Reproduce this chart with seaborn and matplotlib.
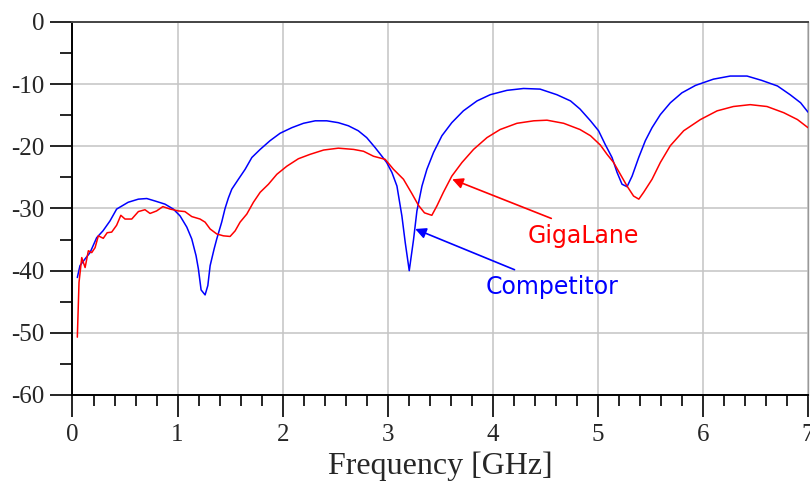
import numpy as np
import pandas as pd
import seaborn as sns
import matplotlib.pyplot as plt
from matplotlib.ticker import MultipleLocator

# Competitor (blue) trace
comp_freq = [0.046, 0.071, 0.12, 0.167, 0.23, 0.29, 0.357, 0.42, 0.53, 0.627, 0.707, 0.786,
             0.88, 0.96, 1.024, 1.088, 1.135, 1.176, 1.198, 1.224, 1.262, 1.288, 1.31, 1.348,
             1.373, 1.42, 1.452, 1.484, 1.516, 1.579, 1.643, 1.707, 1.786, 1.88, 1.976, 2.088,
             2.198, 2.31, 2.42, 2.53, 2.626, 2.72, 2.80, 2.88, 2.945, 2.99, 3.04, 3.088, 3.135,
             3.167, 3.205, 3.246, 3.278, 3.326, 3.373, 3.436, 3.516, 3.61, 3.72, 3.85, 3.976,
             4.135, 4.293, 4.45, 4.61, 4.74, 4.83, 4.93, 5.007, 5.07, 5.135, 5.183, 5.23, 5.278,
             5.326, 5.389, 5.452, 5.516, 5.595, 5.69, 5.80, 5.93, 6.10, 6.26, 6.42, 6.56, 6.71,
             6.83, 6.93, 7.0]
comp_db = [-41.1, -39.2, -38.1, -37.1, -34.7, -33.6, -32.0, -30.1, -29.0, -28.5, -28.4, -28.8,
           -29.3, -30.1, -31.2, -33.0, -34.9, -37.6, -39.7, -43.1, -43.9, -42.4, -39.2, -36.5,
           -34.9, -32.2, -30.0, -28.3, -26.9, -25.3, -23.7, -21.8, -20.5, -19.1, -17.9, -17.0,
           -16.3, -15.9, -15.9, -16.2, -16.7, -17.5, -18.6, -20.2, -21.6, -22.6, -24.2, -26.4,
           -31.2, -35.5, -40.0, -35.0, -30.4, -26.4, -23.7, -21.0, -18.3, -16.2, -14.3, -12.7,
           -11.7, -11.0, -10.7, -10.8, -11.7, -12.7, -14.0, -15.9, -17.5, -19.7, -21.8, -24.2,
           -26.1, -26.5, -24.8, -21.8, -19.1, -17.0, -14.9, -13.0, -11.4, -10.2, -9.2, -8.7,
           -8.7, -9.4, -10.3, -11.7, -13.0, -14.5]

# GigaLane (red) trace
giga_freq = [0.046, 0.062, 0.088, 0.12, 0.151, 0.183, 0.215, 0.246, 0.293, 0.33, 0.373, 0.42,
             0.46, 0.50, 0.564, 0.627, 0.69, 0.738, 0.80, 0.86, 0.93, 1.01, 1.07, 1.135, 1.214,
             1.262, 1.31, 1.373, 1.436, 1.50, 1.548, 1.595, 1.659, 1.722, 1.786, 1.865, 1.945,
             2.04, 2.15, 2.26, 2.39, 2.53, 2.675, 2.77, 2.865, 2.976, 3.055, 3.15, 3.23, 3.293,
             3.35, 3.42, 3.468, 3.53, 3.61, 3.707, 3.817, 3.945, 4.07, 4.23, 4.39, 4.516, 4.675,
             4.83, 4.93, 5.024, 5.088, 5.15, 5.214, 5.278, 5.34, 5.39, 5.436, 5.516, 5.595, 5.69,
             5.817, 5.976, 6.135, 6.29, 6.45, 6.61, 6.77, 6.90, 7.0]
giga_db = [-50.7, -41.9, -37.9, -39.5, -36.8, -37.1, -36.3, -34.4, -34.8, -33.9, -33.8, -32.7,
           -31.1, -31.7, -31.7, -30.5, -30.2, -30.8, -30.4, -29.7, -30.1, -30.4, -30.5, -31.3,
           -31.7, -32.2, -33.3, -34.1, -34.4, -34.5, -33.6, -32.2, -30.9, -29.0, -27.4, -26.1,
           -24.5, -23.2, -22.0, -21.3, -20.6, -20.3, -20.5, -20.8, -21.6, -22.1, -23.7, -25.3,
           -27.6, -29.5, -30.7, -31.1, -29.6, -27.4, -24.8, -22.6, -20.5, -18.6, -17.3, -16.3,
           -15.9, -15.8, -16.3, -17.3, -18.3, -19.8, -21.3, -22.6, -24.5, -26.4, -28.0, -28.5,
           -27.4, -25.3, -22.6, -19.9, -17.5, -15.7, -14.3, -13.6, -13.3, -13.6, -14.6, -15.7,
           -17.0]

x_ticks = [0, 1, 2, 3, 4, 5, 6, 7]
y_ticks = [0, -10, -20, -30, -40, -50, -60]

df = pd.concat([
    pd.DataFrame({'freq': comp_freq, 'db': comp_db, 'trace': 'Competitor'}),
    pd.DataFrame({'freq': giga_freq, 'db': giga_db, 'trace': 'GigaLane'}),
])

sns.set_style('white')
plt.rcParams['font.family'] = ['Liberation Serif', 'DejaVu Serif']
plt.rcParams['axes.unicode_minus'] = False

fig = plt.figure(figsize=(8.1, 4.88), dpi=100)
ax = fig.add_axes([0.0895, 0.1906, 0.9080, 0.7644])

sns.lineplot(data=df, x='freq', y='db', hue='trace', estimator=None, sort=False,
             palette={'Competitor': '#0000ff', 'GigaLane': '#ff0000'},
             linewidth=1.1, legend=False, ax=ax, zorder=3)

ax.set_xlim(0, 7)
ax.set_ylim(-60, 0)
ax.set_xticks(x_ticks)
ax.set_yticks(y_ticks)
ax.set_xticklabels([str(t) for t in x_ticks])
ax.set_yticklabels([str(t) for t in y_ticks])
ax.xaxis.set_minor_locator(MultipleLocator(0.2))
ax.yaxis.set_minor_locator(MultipleLocator(5))
ax.grid(True, which='major', color='#c4c4c4', linewidth=1.1)
ax.set_axisbelow(True)

ax.tick_params(which='both', bottom=True, left=True, top=False, right=False)
ax.tick_params(axis='both', which='major', direction='out', length=16, width=1.2,
               color='black', labelsize=18)
ax.tick_params(axis='y', which='major', pad=4)
ax.tick_params(axis='x', which='major', pad=5)
ax.tick_params(axis='y', which='minor', direction='out', length=9, width=1.2, color='black')
ax.tick_params(axis='x', which='minor', direction='out', length=8, width=1.2, color='black')

for side in ['left', 'bottom']:
    ax.spines[side].set_color('black')
    ax.spines[side].set_linewidth(1.4)
ax.spines['top'].set_color('#444444')
ax.spines['top'].set_linewidth(1.4)
ax.spines['right'].set_color('#999999')
ax.spines['right'].set_linewidth(1.0)

ax.set_xlabel('Frequency [GHz]', fontsize=23, labelpad=4)
ax.set_ylabel('')

# callouts: arrow from tail point to the curve, label set below the tail
ax.annotate('', xy=(3.614, -25.3), xytext=(4.557, -31.6),
            arrowprops=dict(arrowstyle='-|>', color='#ff0000', lw=1.2,
                            mutation_scale=16, shrinkA=0, shrinkB=0))
ax.text(4.329, -34.45, 'GigaLane', color='#ff0000', fontsize=17,
        family='DejaVu Sans', ha='left', va='center')
ax.annotate('', xy=(3.262, -33.3), xytext=(4.207, -39.85),
            arrowprops=dict(arrowstyle='-|>', color='#0000ff', lw=1.2,
                            mutation_scale=16, shrinkA=0, shrinkB=0))
ax.text(3.929, -42.6, 'Competitor', color='#0000ff', fontsize=17,
        family='DejaVu Sans', ha='left', va='center')

fig.savefig('out.png', dpi=100)
